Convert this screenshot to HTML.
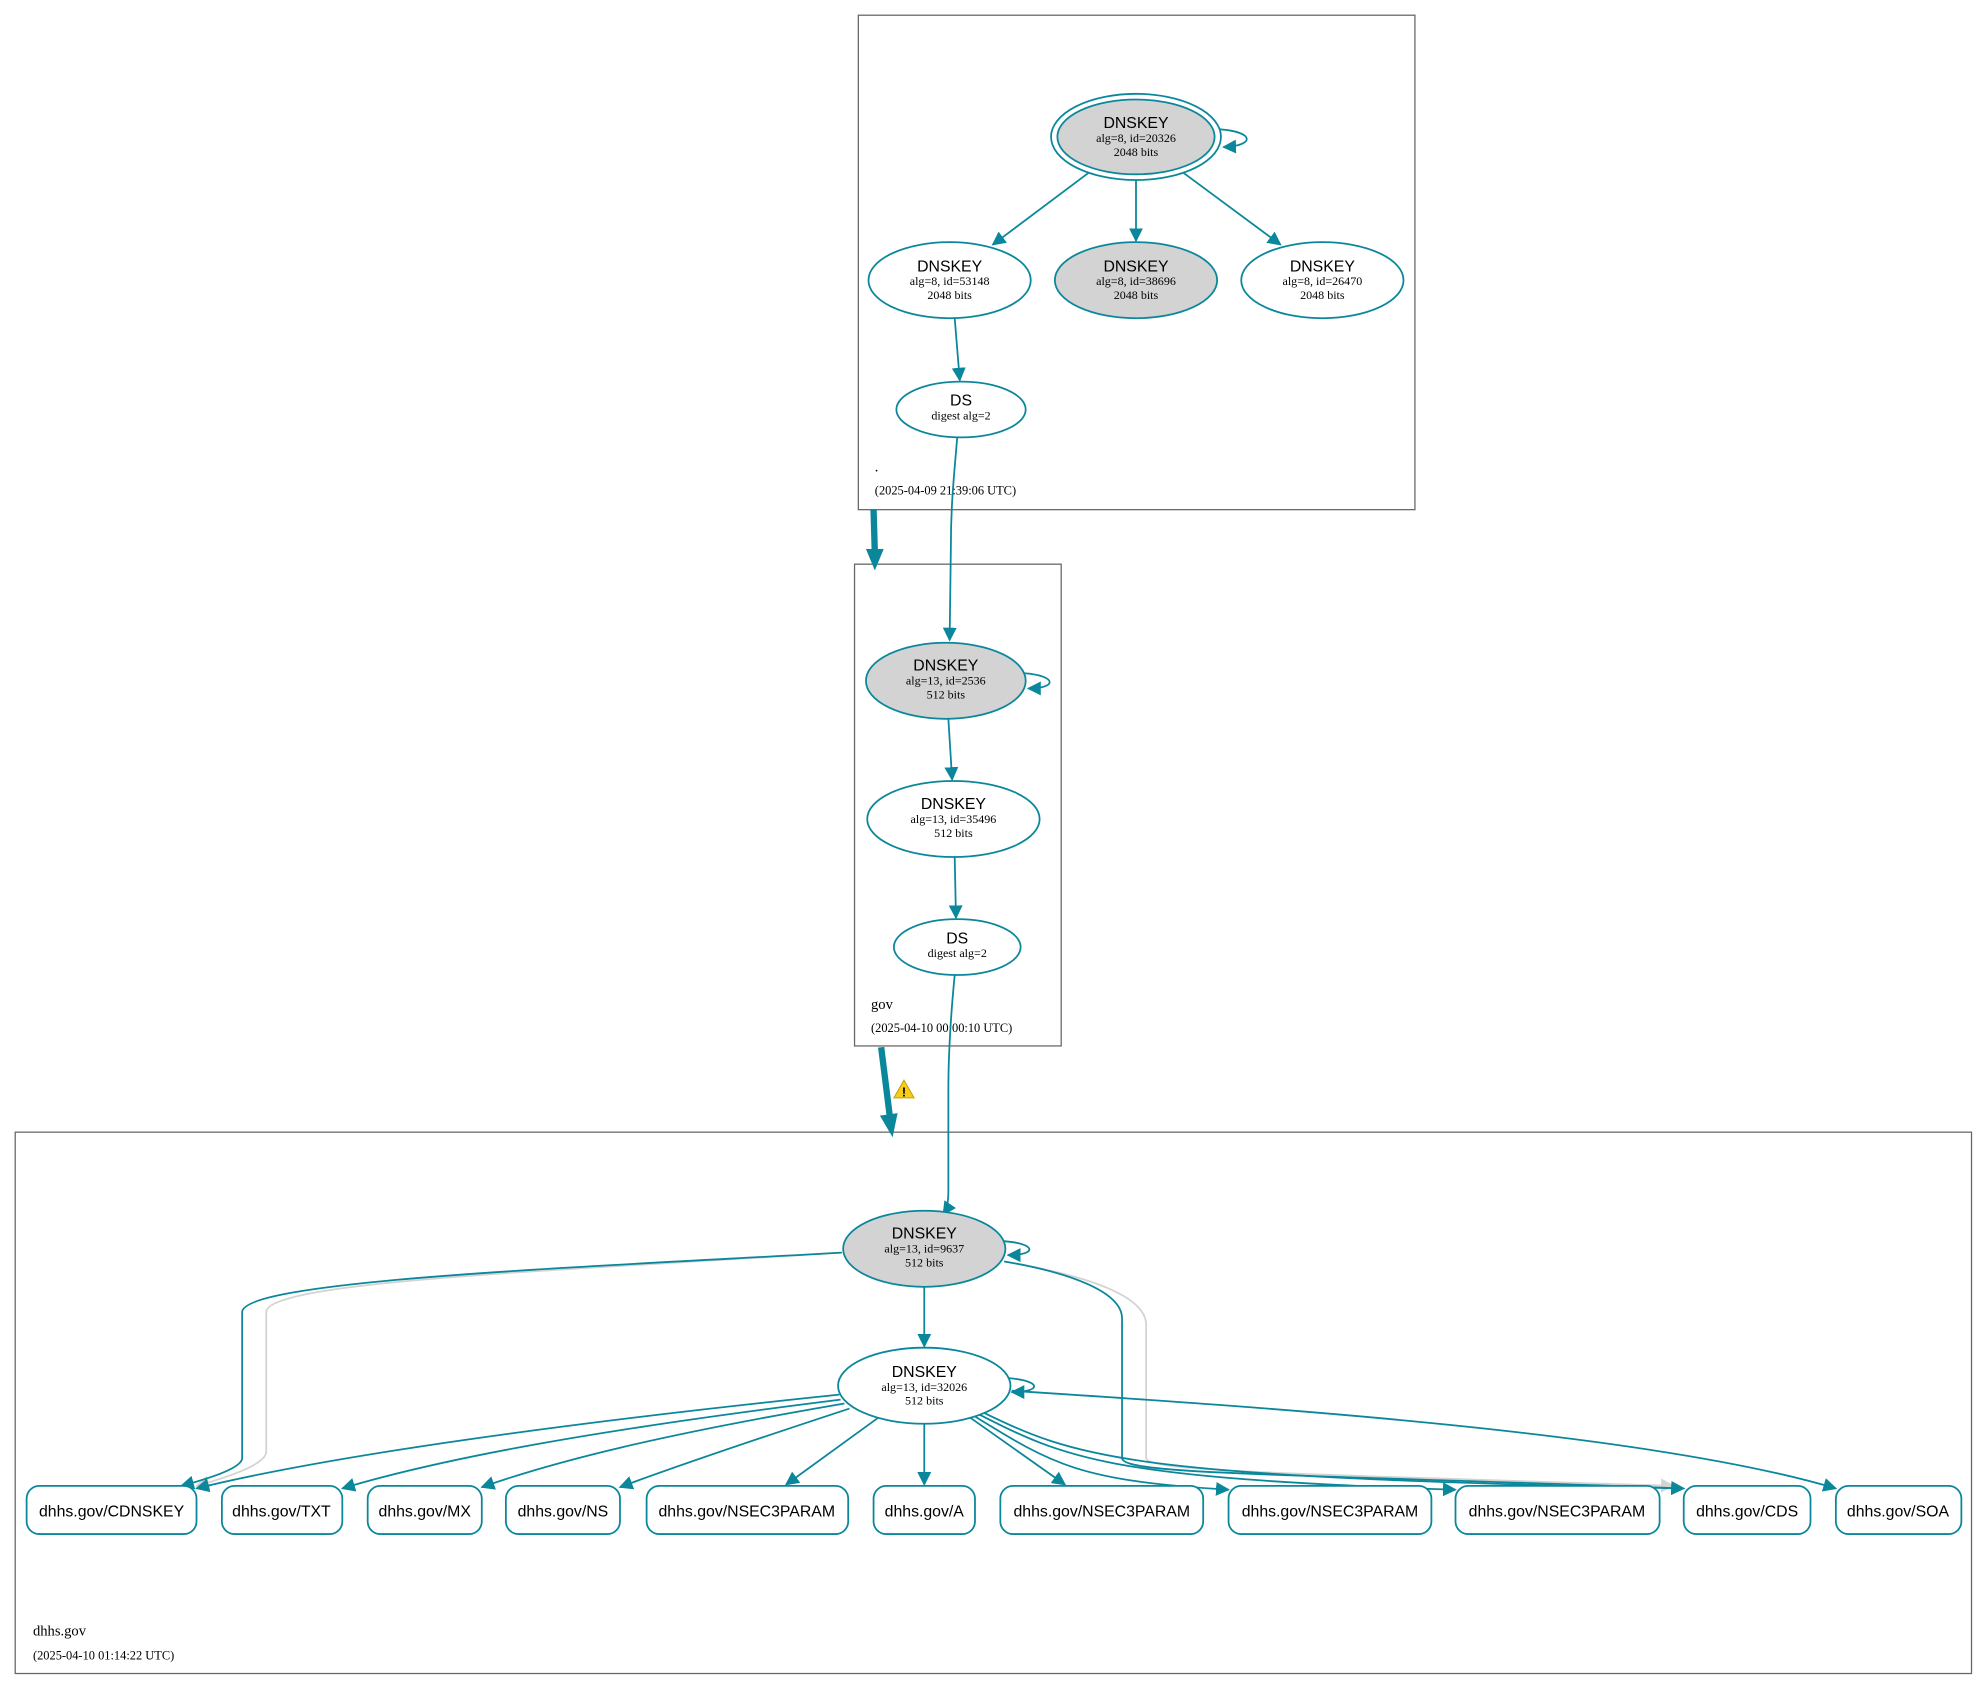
<!DOCTYPE html>
<html><head><meta charset="utf-8"><style>html,body{margin:0;padding:0;background:#fff}svg{display:block}</style></head>
<body>
<svg width="1988" height="1690" viewBox="0 0 1568 1333" preserveAspectRatio="none" xmlns="http://www.w3.org/2000/svg">
<defs>
<marker id="ab" viewBox="0 0 10 10" refX="9" refY="5" markerWidth="11" markerHeight="11" orient="auto" markerUnits="userSpaceOnUse"><path d="M0,0 L10,5 L0,10 z" fill="#0a879a"/></marker>
<marker id="ag" viewBox="0 0 10 10" refX="9" refY="5" markerWidth="11" markerHeight="11" orient="auto" markerUnits="userSpaceOnUse"><path d="M0,0 L10,5 L0,10 z" fill="#d3d3d3"/></marker>
</defs>
<style>
.c{fill:none;stroke:#666;stroke-width:1}
.n{stroke:#0a879a;stroke-width:1.4}
.e{fill:none;stroke:#0a879a;stroke-width:1.4;marker-end:url(#ab)}
.g{fill:none;stroke:#d3d3d3;stroke-width:1.4}
.t{font-family:"Liberation Sans",sans-serif;font-size:12.5px;text-anchor:middle}
.s{font-family:"Liberation Serif",serif;font-size:9.5px;text-anchor:middle}
.l{font-family:"Liberation Serif",serif;font-size:11.5px}
.d{font-family:"Liberation Serif",serif;font-size:9.8px}
.r{font-family:"Liberation Sans",sans-serif;font-size:12.5px;text-anchor:middle}
</style>
<rect class="c" x="677" y="12" width="439" height="390"/>
<rect class="c" x="674" y="445" width="163" height="380"/>
<rect class="c" x="12" y="893" width="1543" height="427"/>
<text class="l" x="690" y="372">.</text>
<text class="d" x="690" y="390">(2025-04-09 21:39:06 UTC)</text>
<text class="l" x="687" y="796">gov</text>
<text class="d" x="687" y="814">(2025-04-10 00:00:10 UTC)</text>
<text class="l" x="26" y="1290">dhhs.gov</text>
<text class="d" x="26" y="1309">(2025-04-10 01:14:22 UTC)</text>

<path d="M689,402 L690,436" stroke="#0a879a" stroke-width="5" fill="none"/>
<path d="M683,433 L697,433 L690,450 z" fill="#0a879a"/>
<path d="M695,826 L702,882" stroke="#0a879a" stroke-width="5" fill="none"/>
<path d="M694,880 L708,878 L704,897 z" fill="#0a879a"/>
<path d="M713,852 L721,866 L705,866 z" fill="#f6cd1e" stroke="#c9a000" stroke-width="0.8"/>
<text x="713" y="865" font-family="Liberation Sans,sans-serif" font-size="10" font-weight="bold" text-anchor="middle">!</text>

<path class="e" d="M962,102 C990,104 990,115 965,116"/>
<path class="e" d="M859,136 L783,193"/>
<path class="e" d="M896,142 L896,190"/>
<path class="e" d="M933,136 L1010,193"/>
<path class="e" d="M753,251 L757,300"/>
<path class="e" d="M755,345 C752,380 750,400 750,430 L749,505"/>
<path class="e" d="M808,531 C834,533 834,543 811,543"/>
<path class="e" d="M748,567 L751,615"/>
<path class="e" d="M753,676 L754,724"/>
<path class="e" d="M753,769 C750,800 748,830 748,860 L748,940 C748,950 746,955 744,958"/>
<path class="e" d="M792,979 C818,981 818,990 795,990"/>
<path class="e" d="M729,1015 L729,1062"/>
<path class="e" d="M795,1087 C822,1089 822,1098 798,1098"/>
<path class="g" d="M662,988 C450,1002 210,1010 210,1035 L210,1145 C210,1155 180,1165 155,1172" marker-end="url(#ag)"/>
<path class="e" d="M664,988 C450,1000 191,1010 191,1035 L191,1150 C191,1158 165,1166 143,1172"/>
<path class="g" d="M792,995 C850,1005 904,1020 904,1045 L904,1150 C904,1160 1000,1162 1320,1172" marker-end="url(#ag)"/>
<path class="e" d="M792,995 C840,1003 885,1018 885,1040 L885,1150 C885,1163 1000,1162 1328,1174"/>
<path class="e" d="M662,1100 C450,1122 260,1148 155,1174"/>
<path class="e" d="M663,1104 C470,1128 350,1150 270,1174"/>
<path class="e" d="M666,1107 C520,1132 440,1152 380,1173"/>
<path class="e" d="M670,1111 C600,1134 540,1154 489,1173"/>
<path class="e" d="M693,1118 L620,1171"/>
<path class="e" d="M729,1123 L729,1171"/>
<path class="e" d="M765,1118 L840,1171"/>
<path class="e" d="M767,1116 C830,1155 850,1168 969,1175"/>
<path class="e" d="M769,1114 C840,1150 870,1166 1148,1175"/>
<path class="e" d="M771,1112 C850,1150 880,1165 1328,1174"/>
<path class="e" d="M798,1097 C1000,1110 1300,1130 1448,1174"/>

<ellipse cx="896" cy="108" rx="67" ry="34" fill="none" class="n"/>
<ellipse cx="896" cy="108" rx="62" ry="29.5" fill="#d3d3d3" class="n"/>
<text class="t" x="896" y="101">DNSKEY</text><text class="s" x="896" y="112">alg=8, id=20326</text><text class="s" x="896" y="123">2048 bits</text>
<ellipse cx="749" cy="221" rx="64" ry="30" fill="#fff" class="n"/>
<text class="t" x="749" y="214">DNSKEY</text><text class="s" x="749" y="225">alg=8, id=53148</text><text class="s" x="749" y="236">2048 bits</text>
<ellipse cx="896" cy="221" rx="64" ry="30" fill="#d3d3d3" class="n"/>
<text class="t" x="896" y="214">DNSKEY</text><text class="s" x="896" y="225">alg=8, id=38696</text><text class="s" x="896" y="236">2048 bits</text>
<ellipse cx="1043" cy="221" rx="64" ry="30" fill="#fff" class="n"/>
<text class="t" x="1043" y="214">DNSKEY</text><text class="s" x="1043" y="225">alg=8, id=26470</text><text class="s" x="1043" y="236">2048 bits</text>
<ellipse cx="758" cy="323" rx="51" ry="22" fill="#fff" class="n"/>
<text class="t" x="758" y="320">DS</text><text class="s" x="758" y="331">digest alg=2</text>
<ellipse cx="746" cy="537" rx="63" ry="30" fill="#d3d3d3" class="n"/>
<text class="t" x="746" y="529">DNSKEY</text><text class="s" x="746" y="540">alg=13, id=2536</text><text class="s" x="746" y="551">512 bits</text>
<ellipse cx="752" cy="646" rx="68" ry="30" fill="#fff" class="n"/>
<text class="t" x="752" y="638">DNSKEY</text><text class="s" x="752" y="649">alg=13, id=35496</text><text class="s" x="752" y="660">512 bits</text>
<ellipse cx="755" cy="747" rx="50" ry="22" fill="#fff" class="n"/>
<text class="t" x="755" y="744">DS</text><text class="s" x="755" y="755">digest alg=2</text>
<ellipse cx="729" cy="985" rx="64" ry="30" fill="#d3d3d3" class="n"/>
<text class="t" x="729" y="977">DNSKEY</text><text class="s" x="729" y="988">alg=13, id=9637</text><text class="s" x="729" y="999">512 bits</text>
<ellipse cx="729" cy="1093" rx="68" ry="30" fill="#fff" class="n"/>
<text class="t" x="729" y="1086">DNSKEY</text><text class="s" x="729" y="1097">alg=13, id=32026</text><text class="s" x="729" y="1108">512 bits</text>

<g fill="#fff" class="n">
<rect x="21" y="1172" width="134" height="38" rx="10"/>
<rect x="175" y="1172" width="95" height="38" rx="10"/>
<rect x="290" y="1172" width="90" height="38" rx="10"/>
<rect x="399" y="1172" width="90" height="38" rx="10"/>
<rect x="510" y="1172" width="159" height="38" rx="10"/>
<rect x="689" y="1172" width="80" height="38" rx="10"/>
<rect x="789" y="1172" width="160" height="38" rx="10"/>
<rect x="969" y="1172" width="160" height="38" rx="10"/>
<rect x="1148" y="1172" width="161" height="38" rx="10"/>
<rect x="1328" y="1172" width="100" height="38" rx="10"/>
<rect x="1448" y="1172" width="99" height="38" rx="10"/>
</g>
<text class="r" x="88" y="1196">dhhs.gov/CDNSKEY</text>
<text class="r" x="222" y="1196">dhhs.gov/TXT</text>
<text class="r" x="335" y="1196">dhhs.gov/MX</text>
<text class="r" x="444" y="1196">dhhs.gov/NS</text>
<text class="r" x="589" y="1196">dhhs.gov/NSEC3PARAM</text>
<text class="r" x="729" y="1196">dhhs.gov/A</text>
<text class="r" x="869" y="1196">dhhs.gov/NSEC3PARAM</text>
<text class="r" x="1049" y="1196">dhhs.gov/NSEC3PARAM</text>
<text class="r" x="1228" y="1196">dhhs.gov/NSEC3PARAM</text>
<text class="r" x="1378" y="1196">dhhs.gov/CDS</text>
<text class="r" x="1497" y="1196">dhhs.gov/SOA</text>
</svg>
</body></html>
